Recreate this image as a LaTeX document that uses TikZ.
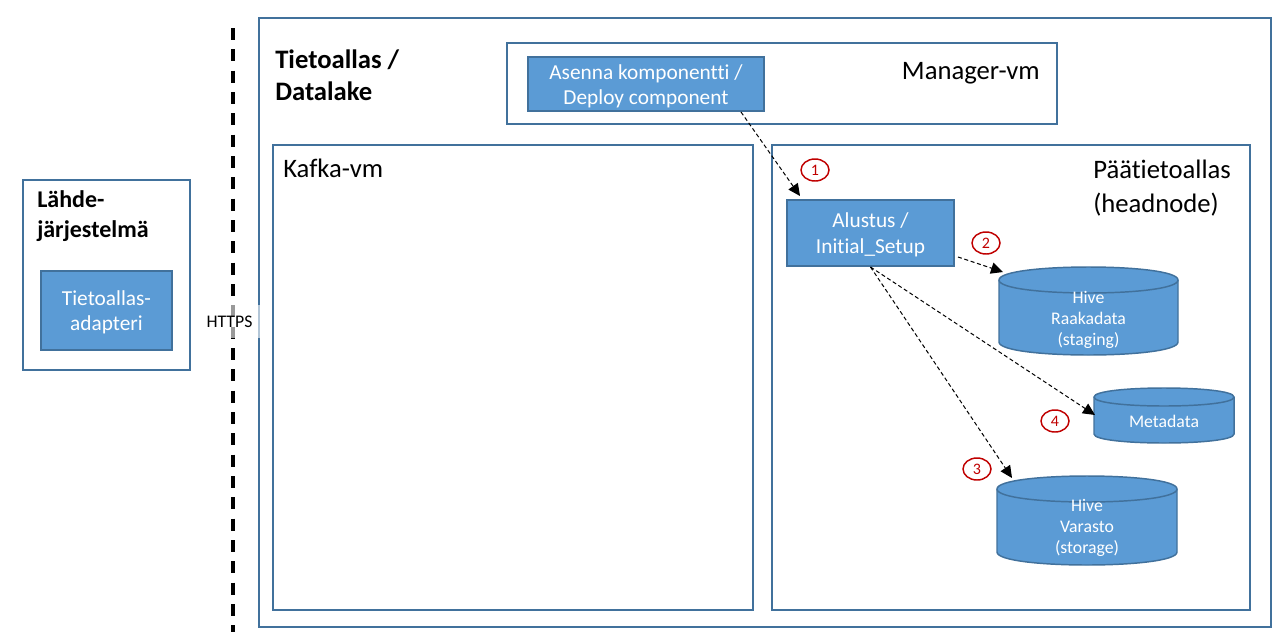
\documentclass[tikz,border=0pt]{standalone}
\usepackage{fontspec}
\setmainfont{Carlito}[Ligatures=NoCommon]
\usetikzlibrary{fit,shapes.geometric,arrows.meta}
\definecolor{boxfill}{HTML}{5B9BD5}
\definecolor{boxline}{HTML}{41719C}
\definecolor{framecol}{HTML}{41719C}
\definecolor{numred}{HTML}{C00000}
\newcommand{\mycyl}[5]{% x1, x2, ytop, ybottom, ry
  \filldraw[cylstyle] (#1,#3) -- (#1,#4) .. controls (#1,{#4+1.333*#5}) and (#2,{#4+1.333*#5}) .. (#2,#4)
     -- (#2,#3) .. controls (#2,{#3-1.333*#5}) and (#1,{#3-1.333*#5}) .. (#1,#3) -- cycle;
  \draw[cylstyle] (#1,#3) .. controls (#1,{#3+1.333*#5}) and (#2,{#3+1.333*#5}) .. (#2,#3);
}
\begin{document}
\begin{tikzpicture}[x=0.75pt,y=-0.75pt,
  container/.style={draw=framecol, line width=1.5pt, inner sep=0pt},
  bluebox/.style={draw=boxline, fill=boxfill, line width=1.5pt, inner sep=0pt},
  whitetext/.style={text=white, inner sep=0pt, align=center},
  cylstyle/.style={draw=boxline, fill=boxfill, line width=1.1pt},
  cyltext/.style={text=white, inner sep=0pt, align=center, font=\fontsize{13.3}{16}\selectfont},
  numcirc/.style={ellipse, draw=numred, fill=white, line width=1.1pt, text=numred,
     minimum width=21pt, minimum height=16.5pt, inner sep=0pt, font=\fontsize{12}{13}\selectfont},
  flow/.style={draw=black, line width=0.75pt, dash pattern=on 3pt off 2pt,
     -{Triangle[length=9pt,width=8.5pt]}},
  bigtext/.style={inner sep=0pt, align=left, font=\fontsize{20}{25}\selectfont},
  boldtext/.style={inner sep=0pt, align=left, font=\bfseries\fontsize{20}{24}\selectfont}
]
\useasboundingbox (0,0) rectangle (1281,643);
\fill[white] (0,0) rectangle (1281,643);

% separator line
\coordinate (sepTop) at (233,28);
\coordinate (sepBot) at (233,632);
\draw[black, line width=2.6pt, dash pattern=on 9pt off 7pt] (sepTop) -- (sepBot);

% source system
\node[container, fit={(23,180)(190,370)}] (lahde) {};
\node[boldtext, font=\bfseries\fontsize{18}{22}\selectfont, anchor=base west] (lahdeT) at (37,237) {Lähde-\\järjestelmä};
\node[bluebox, fit={(41,271)(172,350)}] (adapteri) {};
\node[whitetext, font=\fontsize{16}{19}\selectfont] (adapteriT) at (106.5,312) {Tietoallas-\\adapteri};

% data lake frame
\node[container, fit={(259,18)(1271,627)}] (datalake) {};
\node[boldtext, anchor=base west] (datalakeT) at (275,100) {Tietoallas /\\Datalake};

% HTTPS label
\node[fill=white, fill opacity=0.6, text opacity=1, inner sep=0pt, minimum width=45pt, minimum height=24.75pt,
      font=\fontsize{13.3}{16}\selectfont] (https) at (229.5,321.5) {HTTPS};

% manager vm
\node[container, fit={(507,43)(1057,124)}] (manager) {};
\node[bigtext, anchor=base east] (managerT) at (1040,79) {Manager-vm};
\node[bluebox, fit={(528,57)(764,111)}] (asenna) {};
\node[whitetext, font=\fontsize{16}{18.5}\selectfont] (asennaT) at (646,86) {Asenna komponentti /\\Deploy component};

% kafka vm
\node[container, fit={(273,145)(753,610)}] (kafka) {};
\node[bigtext, anchor=base west] (kafkaT) at (283,177) {Kafka-vm};

% head node
\node[container, fit={(772,145)(1250,610)}] (head) {};
\node[bigtext, anchor=base west] (headT) at (1093,212) {Päätietoallas\\(headnode)};
\node[bluebox, fit={(787,200)(954,266)}] (alustus) {};
\node[whitetext, font=\fontsize{16}{19.5}\selectfont] (alustusT) at (870.5,235) {Alustus /\\Initial\_Setup};

% cylinders
\mycyl{999}{1178}{280}{342}{13}
\node[cyltext] (raaka) at (1088.5,320) {Hive\\Raakadata\\(staging)};
\mycyl{1094}{1234}{397}{434}{9}
\node[cyltext] (meta) at (1164,421) {Metadata};
\mycyl{997}{1177}{489}{552}{13}
\node[cyltext] (varasto) at (1087,528) {Hive\\Varasto\\(storage)};

% numbers
\node[numcirc] (n1) at (815,170) {1};
\node[numcirc] (n2) at (986,243) {2};
\node[numcirc] (n3) at (977,469) {3};
\node[numcirc] (n4) at (1055,421) {4};

% connectors
\coordinate (a1s) at ([xshift=-18pt]asenna.south east);
\coordinate (a1e) at (800,196);
\coordinate (a2s) at (958,257);
\coordinate (a2e) at (1003,272);
\coordinate (a4e) at (1095,415);
\coordinate (a3e) at (1012,478);
\draw[flow] (a1s) -- (a1e);
\draw[flow] (a2s) -- (a2e);
\draw[flow] (alustus.south) -- (a4e);
\draw[flow] (alustus.south) -- (a3e);
\end{tikzpicture}
\end{document}
